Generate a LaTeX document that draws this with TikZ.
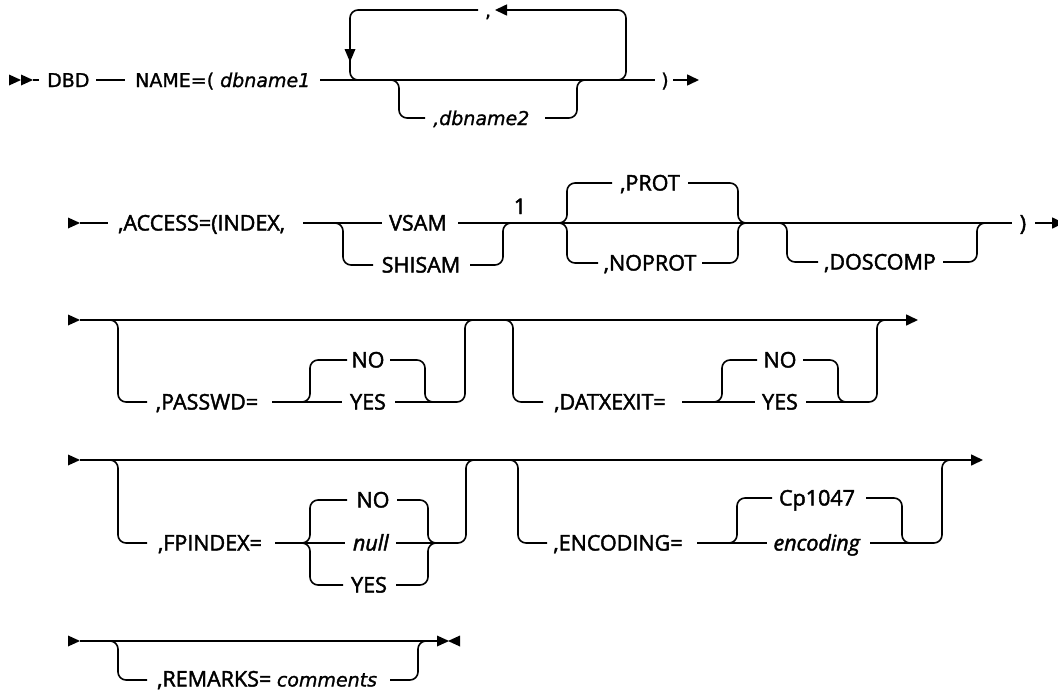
\documentclass[tikz,border=0pt]{standalone}
\usepackage{fontspec}
\setmainfont{Open Sans}[UprightFeatures={FakeBold=2}, ItalicFeatures={FakeBold=2}]
\newfontfamily\vfont{DejaVu Sans}[UprightFeatures={FakeBold=1.2}, ItalicFeatures={FakeBold=1.2}]
\usetikzlibrary{arrows.meta}
\begin{document}
\begin{tikzpicture}[x=1pt,y=-1pt,
  rail/.style={line width=1.6pt, rounded corners=8pt},
  lbl/.style={inner sep=0pt, anchor=base west, font=\fontsize{21.5}{25}\selectfont},
  clbl/.style={inner sep=0pt, anchor=base, font=\fontsize{21.5}{25}\selectfont},
  vlbl/.style={inner sep=0pt, anchor=base west, font=\vfont\fontsize{19}{23}\selectfont},
  tip/.style={-{Triangle[length=12pt,width=11pt]}},
  rtri/.pic={\fill (0,-5.5) -- (12,0) -- (0,5.5) -- cycle;},
  ltri/.pic={\fill (0,-5.5) -- (-12,0) -- (0,5.5) -- cycle;},
]
\useasboundingbox (0,0) rectangle (1058,691);
\clip (0,0) rectangle (1058,691);

% ---------- Row 1 ----------
\pic at (9,80) {rtri};
\pic at (21,80) {rtri};
\draw[rail] (33,80) -- (39,80);
\node[vlbl] (dbd) at (47,87) {DBD};
\draw[rail] (96,80) -- (125,80);
\node[vlbl] (name) at (135,87) {NAME=( \textit{dbname1}};
\draw[rail] (320,80) -- (655,80);
\node[vlbl, anchor=base] (rp1) at (665,87) {)};
\draw[rail,tip] (673,80) -- (699,80);
% repeat loop
\draw[rail,tip] (616,80) -- (626,80) -- (626,10) -- (495,10);
\node[vlbl, anchor=base] (comma) at (488,17) {,};
\draw[rail] (478,10) -- (350,10) -- (350,80) -- (360,80);
\fill (344.5,49) -- (355.5,49) -- (350,62) -- cycle;
% dbname2
\draw[rail] (389,80) -- (399,80) -- (399,118) -- (425,118);
\node[vlbl] (db2) at (433,125) {\textit{,dbname2}};
\draw[rail] (545,118) -- (577,118) -- (577,80) -- (587,80);

% ---------- Row 2 ----------
\pic at (68,223) {rtri};
\draw[rail] (80,223) -- (108,223);
\node[lbl] (access) at (118,230.5) {,ACCESS=(INDEX,};
\draw[rail] (303,223) -- (382,223);
\node[clbl] (vsam) at (418,230.5) {VSAM};
\draw[rail] (458,223) -- (1012,223);
\node[clbl] (fn) at (520,214) {1};
\draw[rail] (333,223) -- (343,223) -- (343,265) -- (373,265);
\node[clbl] (shisam) at (421,272.5) {SHISAM};
\draw[rail] (470,265) -- (503,265) -- (503,223) -- (513,223);
% PROT / NOPROT
\draw[rail] (557,223) -- (567,223) -- (567,183) -- (612,183);
\node[clbl] (prot) at (650,190.5) {,PROT};
\draw[rail] (688,183) -- (738,183) -- (738,223) -- (748,223);
\draw[rail] (557,223) -- (567,223) -- (567,263) -- (598,263);
\node[clbl] (noprot) at (650,270.5) {,NOPROT};
\draw[rail] (702,263) -- (738,263) -- (738,223) -- (748,223);
% DOSCOMP
\draw[rail] (777,223) -- (787,223) -- (787,262) -- (818,262);
\node[clbl] (doscomp) at (880,269.5) {,DOSCOMP};
\draw[rail] (943,262) -- (977,262) -- (977,223) -- (987,223);
\node[clbl] (rp2) at (1023,230.5) {)};
\draw[rail,tip] (1035,223) -- (1064,223);

% ---------- Row 3 ----------
\pic at (68,320) {rtri};
\draw[rail,tip] (80,320) -- (918,320);
% PASSWD
\draw[rail] (108,320) -- (118,320) -- (118,402) -- (147,402);
\node[clbl] (passwd) at (207,409.5) {,PASSWD=};
\draw[rail] (272,402) -- (342,402);
\draw[rail] (300,402) -- (310,402) -- (310,360) -- (347,360);
\node[clbl] (pwno) at (368,367.5) {NO};
\draw[rail] (390,360) -- (425,360) -- (425,402) -- (435,402);
\node[clbl] (pwyes) at (368,409.5) {YES};
\draw[rail] (395,402) -- (465,402) -- (465,320) -- (475,320);
% DATXEXIT
\draw[rail] (503,320) -- (513,320) -- (513,402) -- (543,402);
\node[clbl] (datx) at (610,409.5) {,DATXEXIT=};
\draw[rail] (682,402) -- (755,402);
\draw[rail] (712,402) -- (722,402) -- (722,360) -- (757,360);
\node[clbl] (dxno) at (780,367.5) {NO};
\draw[rail] (803,360) -- (838,360) -- (838,402) -- (848,402);
\node[clbl] (dxyes) at (780,409.5) {YES};
\draw[rail] (806,402) -- (877,402) -- (877,320) -- (887,320);

% ---------- Row 4 ----------
\pic at (68,460) {rtri};
\draw[rail,tip] (80,460) -- (983,460);
% FPINDEX
\draw[rail] (108,460) -- (118,460) -- (118,543) -- (147,543);
\node[clbl] (fpindex) at (210,550.5) {,FPINDEX=};
\draw[rail] (275,543) -- (345,543);
\draw[rail] (300,543) -- (310,543) -- (310,500) -- (347,500);
\node[clbl] (fpno) at (373,507.5) {NO};
\draw[rail] (397,500) -- (428,500) -- (428,543) -- (438,543);
\node[clbl] (fpnull) at (371,550.5) {\textit{null}};
\draw[rail] (396,543) -- (466,543) -- (466,460) -- (476,460);
\draw[rail] (300,543) -- (310,543) -- (310,585) -- (343,585);
\node[clbl] (fpyes) at (369,592.5) {YES};
\draw[rail] (396,585) -- (428,585) -- (428,543) -- (438,543);
% ENCODING
\draw[rail] (508,460) -- (518,460) -- (518,543) -- (547,543);
\node[clbl] (enc) at (618,550.5) {,ENCODING=};
\draw[rail] (697,543) -- (767,543);
\draw[rail] (727,543) -- (737,543) -- (737,498) -- (772,498);
\node[clbl] (cp) at (817,505.5) {Cp1047};
\draw[rail] (866,498) -- (902,498) -- (902,543) -- (912,543);
\node[clbl] (encv) at (817,550.5) {\textit{encoding}};
\draw[rail] (870,543) -- (942,543) -- (942,460) -- (952,460);

% ---------- Row 5 ----------
\pic at (68,641) {rtri};
\draw[rail] (80,641) -- (438,641);
\draw[rail] (108,641) -- (118,641) -- (118,680) -- (147,680);
\node[lbl] (remarks) at (157,686.5) {,REMARKS= {\vfont\fontsize{19}{23}\selectfont\textit{comments}}};
\draw[rail] (390,680) -- (418,680) -- (418,641) -- (428,641);
\pic at (437,641) {rtri};
\pic at (460,641) {ltri};
\end{tikzpicture}
\end{document}
